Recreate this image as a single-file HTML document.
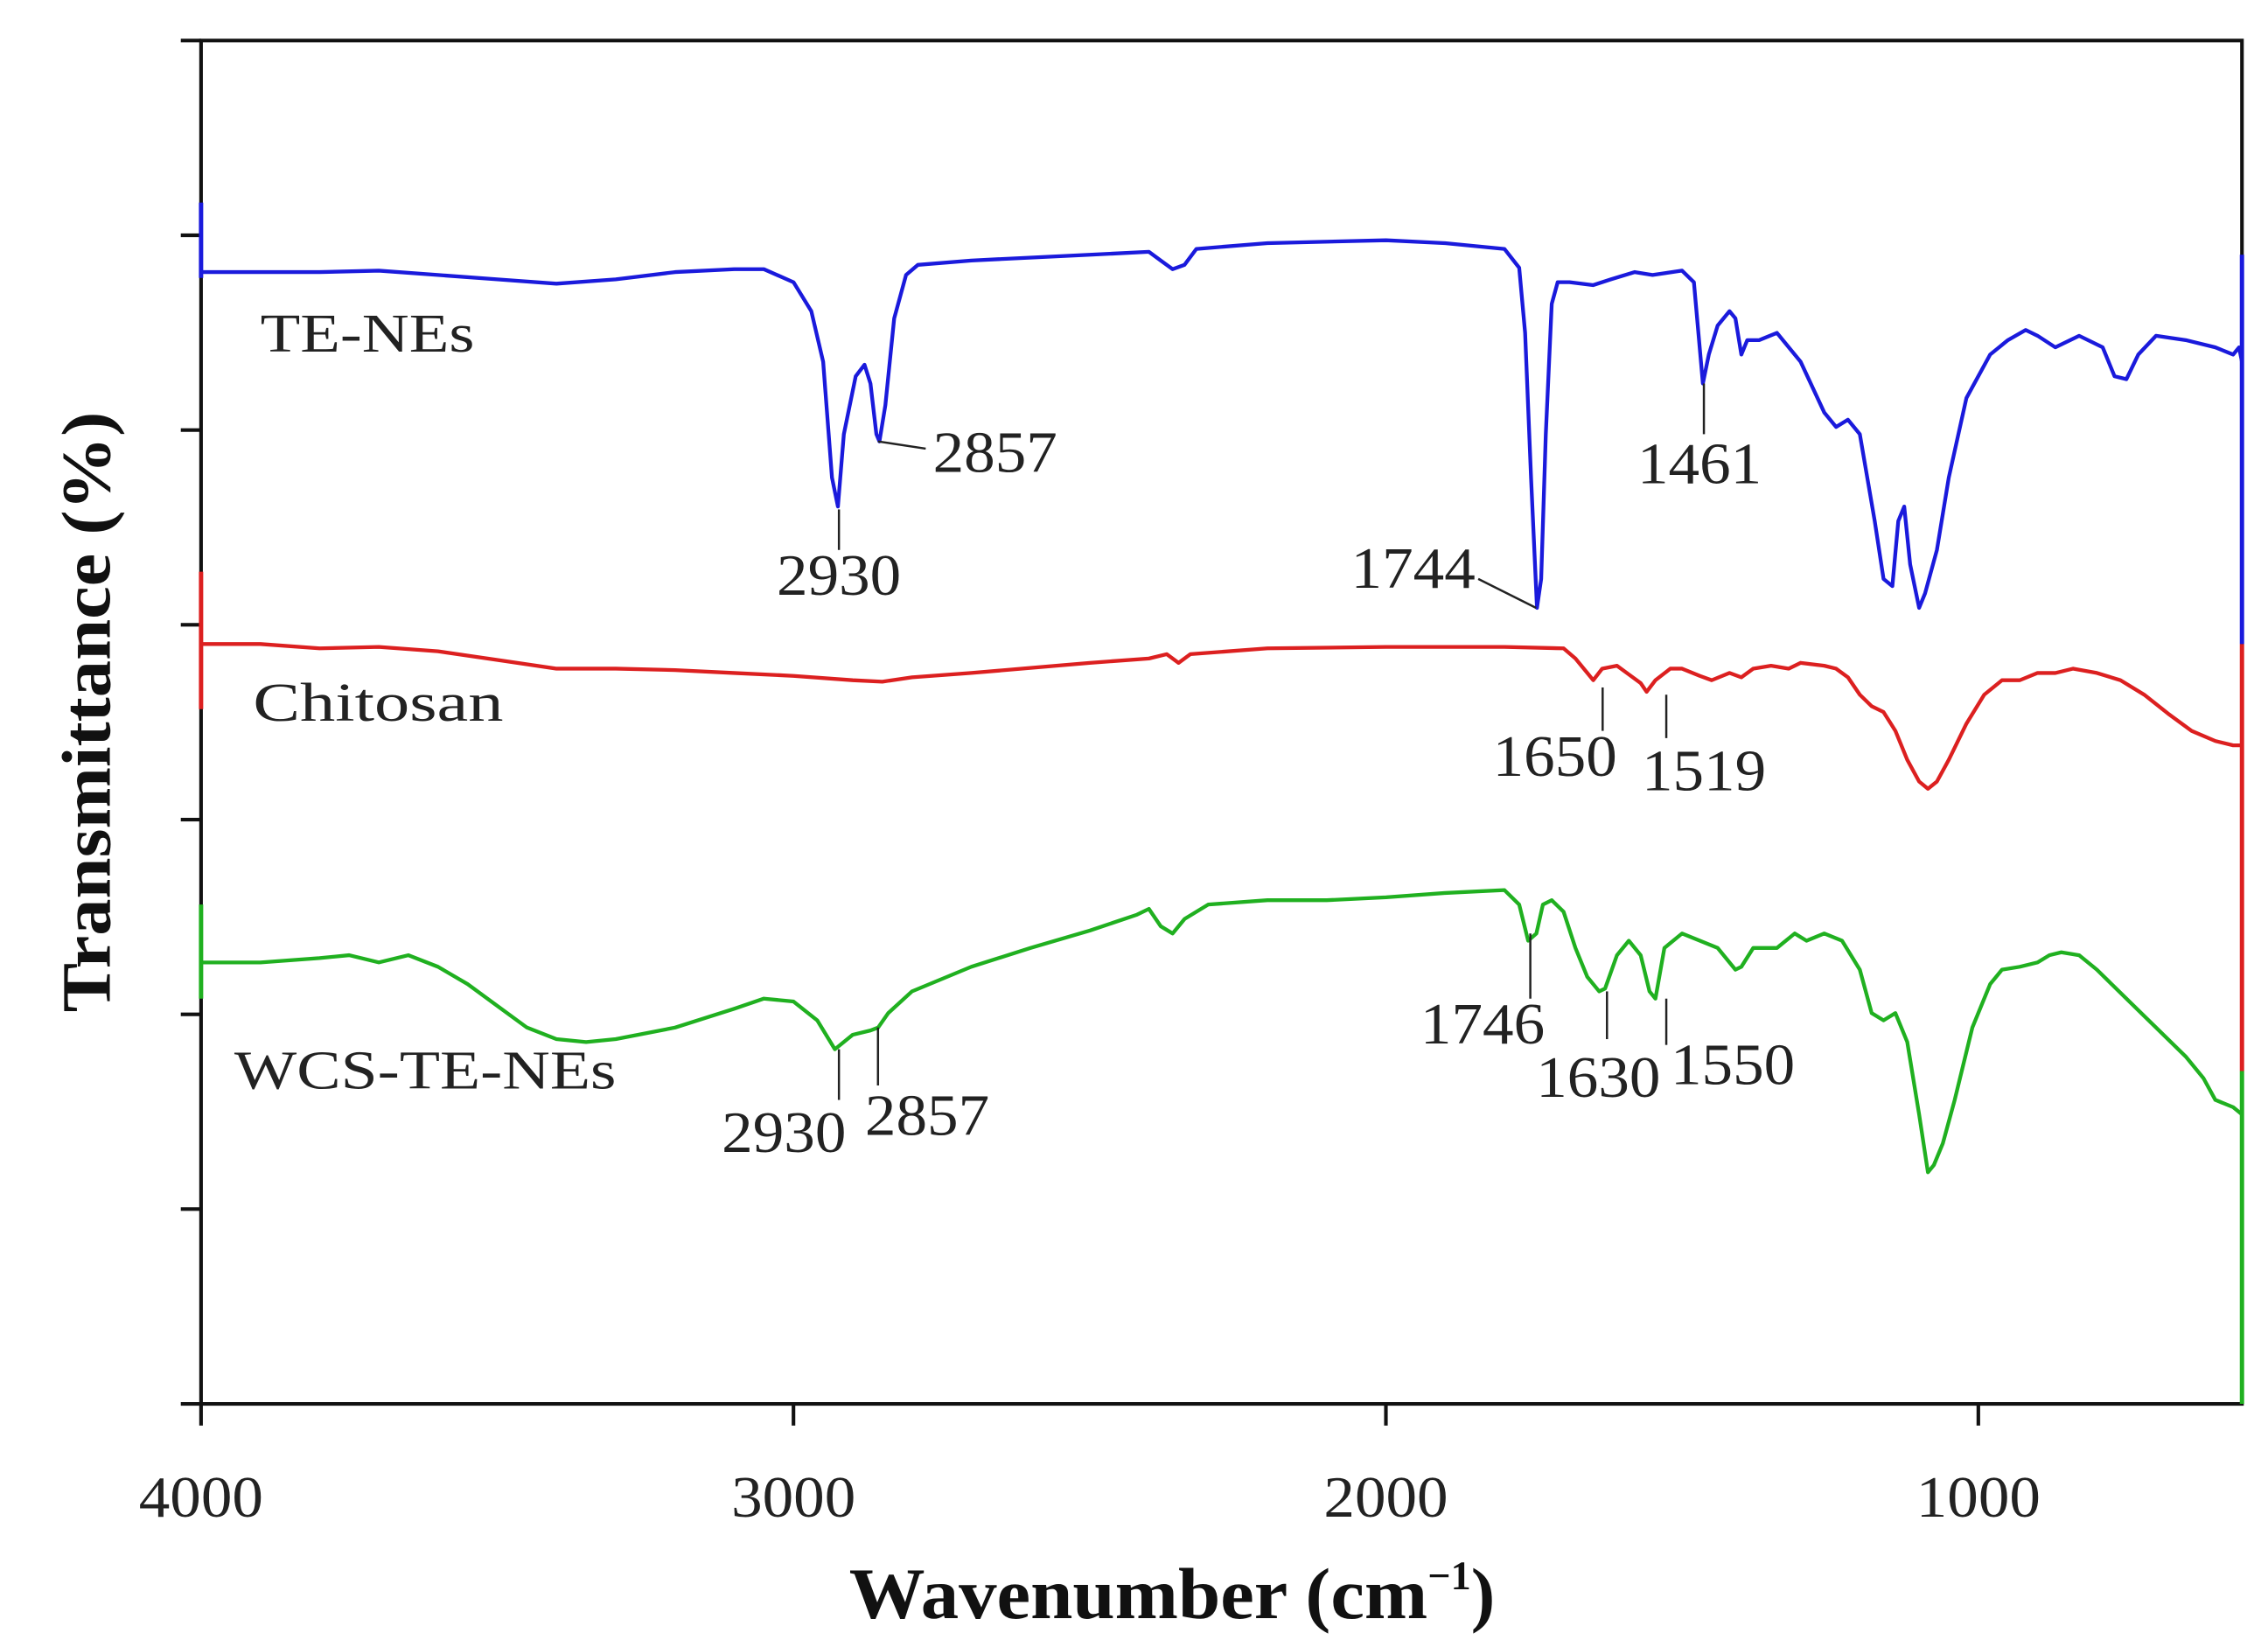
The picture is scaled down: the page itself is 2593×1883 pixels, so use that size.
<!DOCTYPE html>
<html><head><meta charset="utf-8"><style>
html,body{margin:0;padding:0;background:#fff;}
svg{display:block;}
text{font-family:"Liberation Serif",serif;fill:#222;}
</style></head><body>
<svg id="chart" width="2593" height="1883" viewBox="0 0 1568 1138" preserveAspectRatio="none" xmlns="http://www.w3.org/2000/svg">
<g id="axes"></g>
<g id="series"></g>
<g id="ann"></g>
<text transform="translate(76,492) rotate(-90)" text-anchor="middle" font-size="48" font-weight="bold" textLength="415" lengthAdjust="spacingAndGlyphs" style="fill:#111">Transmittance (%)</text>
<text x="587" y="1118" font-size="50" font-weight="bold" style="fill:#111"><tspan textLength="400" lengthAdjust="spacingAndGlyphs">Wavenumber (cm</tspan><tspan font-size="28" dy="-20">−1</tspan><tspan dy="20">)</tspan></text>
<text x="180" y="243" font-size="38" textLength="148" lengthAdjust="spacingAndGlyphs">TE-NEs</text>
<text x="175" y="498" font-size="38" textLength="173" lengthAdjust="spacingAndGlyphs">Chitosan</text>
<text x="162" y="752" font-size="38" textLength="264" lengthAdjust="spacingAndGlyphs">WCS-TE-NEs</text>
</svg>
<script>
const xTicks=[4000,3000,2000,1000];
const yTickCount=8;
const blueWn=[4000,3950,3800,3700,3600,3500,3400,3300,3200,3100,3050,3000,2970,2950,2935,2925,2915,2895,2880,2870,2860,2855,2845,2830,2810,2790,2700,2500,2400,2380,2360,2340,2320,2200,2000,1900,1800,1775,1765,1755,1745,1738,1730,1720,1710,1690,1650,1620,1580,1550,1500,1480,1465,1455,1440,1420,1410,1400,1390,1370,1340,1300,1260,1240,1220,1200,1175,1160,1145,1135,1125,1115,1100,1090,1070,1050,1020,1000,980,950,920,900,870,830,790,770,750,730,700,650,600,570,560,555];
const blueVal=[782,782,782,783,780,777,774,777,782,784,784,775,755,720,640,620,670,710,718,705,670,665,690,750,780,787,790,794,796,790,784,787,798,802,804,802,798,785,740,640,550,570,670,760,775,775,773,777,782,780,783,775,705,725,745,755,750,725,735,735,740,720,685,675,680,670,610,570,565,610,620,580,550,560,590,640,695,710,725,735,742,738,730,738,730,710,708,725,738,735,730,725,730,720];
const redWn=[4000,3900,3800,3700,3600,3500,3400,3300,3200,3100,3000,2900,2850,2800,2700,2500,2400,2370,2350,2330,2200,2000,1900,1800,1700,1680,1660,1650,1635,1610,1590,1570,1560,1545,1520,1500,1470,1450,1420,1400,1380,1350,1320,1300,1260,1240,1220,1200,1180,1160,1140,1120,1100,1085,1070,1050,1020,990,960,930,900,870,840,800,760,720,680,640,600,570,555];
const redVal=[525,525,522,523,520,514,508,508,507,505,503,500,499,502,505,512,515,518,512,518,522,523,523,523,522,515,505,500,508,510,504,498,492,500,508,508,503,500,505,502,508,510,508,512,510,508,502,490,482,478,465,445,430,425,430,445,470,490,500,500,505,505,508,505,500,490,477,465,458,455,455];
const greenWn=[4000,3900,3800,3750,3700,3650,3600,3550,3500,3450,3400,3350,3300,3200,3100,3050,3000,2960,2930,2900,2870,2857,2840,2800,2700,2600,2500,2420,2400,2380,2360,2340,2300,2200,2100,2000,1900,1800,1775,1760,1746,1735,1720,1700,1680,1660,1640,1630,1610,1590,1570,1555,1545,1530,1500,1470,1440,1410,1400,1380,1340,1310,1290,1260,1230,1200,1180,1160,1140,1120,1100,1085,1075,1060,1040,1010,980,960,930,900,880,860,830,800,750,700,650,620,600,570,555];
const greenVal=[305,305,308,310,305,310,302,290,275,260,252,250,252,260,273,280,278,265,245,255,258,260,270,285,302,315,327,338,342,330,325,335,345,348,348,350,353,355,345,320,325,345,348,340,315,295,285,287,310,320,310,285,280,315,325,320,315,300,302,315,315,325,320,325,320,300,270,265,270,250,200,160,165,180,210,260,290,300,302,305,310,312,310,300,280,260,240,225,210,205,200];
const X0=139,X1=1550,Y0=970,Y1=28;
function xs(w){return X0+(4000-w)*(X1-X0)/(4000-555);}
function ys(v){return Y0-v;}
const NS="http://www.w3.org/2000/svg";
function mk(tag,attrs,parent){const e=document.createElementNS(NS,tag);for(const k in attrs)e.setAttribute(k,attrs[k]);parent.appendChild(e);return e;}
const axes=document.getElementById('axes');
let e;
e=mk('path',{d:`M${X0},${Y1}H${X1}V${Y0}H${X0}Z`,fill:'none',stroke:'#111','stroke-width':2.5},axes);


xTicks.forEach(t=>{
  const x=xs(t);
  const l=mk('line',{x1:x,x2:x,y1:Y0,y2:Y0+15,stroke:'#111','stroke-width':2.5},axes);
  
  
  const tx=mk('text',{x:x,y:Y0+78,'text-anchor':'middle','font-size':40,textLength:86,lengthAdjust:'spacingAndGlyphs'},axes);
  tx.textContent=t;
  
  
});
for(let i=0;i<yTickCount;i++){
  const y=Y0-i*(Y0-Y1)/(yTickCount-1);
  const l=mk('line',{x1:X0-14,x2:X0,y1:y,y2:y,stroke:'#111','stroke-width':2.5},axes);
  
  
}
const ser=document.getElementById('series');
function drawSeries(wn,val,color,name,leftTop,leftBot,rightTop,rightBot){
  let d='';
  wn.forEach((w,i)=>{d+=(i?'L':'M')+xs(w).toFixed(1)+','+ys(val[i]).toFixed(1);});
  const p=mk('path',{d:d,fill:'none',stroke:color,'stroke-width':2.6,'stroke-linejoin':'round'},ser);
  
  
  const a=mk('line',{x1:X0,x2:X0,y1:leftTop,y2:leftBot,stroke:color,'stroke-width':3},ser);
  
  
  const b=mk('line',{x1:X1,x2:X1,y1:rightTop,y2:rightBot,stroke:color,'stroke-width':3},ser);
  
  
}
drawSeries(blueWn,blueVal,'#1a1adc','series-te-nes',140,192,176,445);
drawSeries(redWn,redVal,'#dc2020','series-chitosan',395,490,445,740);
drawSeries(greenWn,greenVal,'#20b020','series-wcs-te-nes',625,690,740,970);
const ann=document.getElementById('ann');
const annLines=[[580,352,580,380],[607,305,640,310],[1022,400,1062,420],[1178,265,1178,300],[1108,475,1108,505],[1152,480,1152,510],[580,725,580,760],[607,710,607,750],[1058,645,1058,690],[1111,685,1111,718],[1152,690,1152,722]];
annLines.forEach(a=>{const l=mk('line',{x1:a[0],y1:a[1],x2:a[2],y2:a[3],stroke:'#222','stroke-width':1.5},ann);

});
const annText=[['2930',580,411,'middle'],['2857',645,326,'start'],['1744',1020,406,'end'],['1461',1175,334,'middle'],['1650',1075,536,'middle'],['1519',1178,546,'middle'],['2930',542,796,'middle'],['2857',598,784,'start'],['1746',1025,721,'middle'],['1630',1105,758,'middle'],['1550',1155,749,'start']];
annText.forEach(a=>{const t=mk('text',{x:a[1],y:a[2],'text-anchor':a[3],'font-size':40,textLength:86,lengthAdjust:'spacingAndGlyphs'},ann);t.textContent=a[0];

});
</script>
</body></html>
